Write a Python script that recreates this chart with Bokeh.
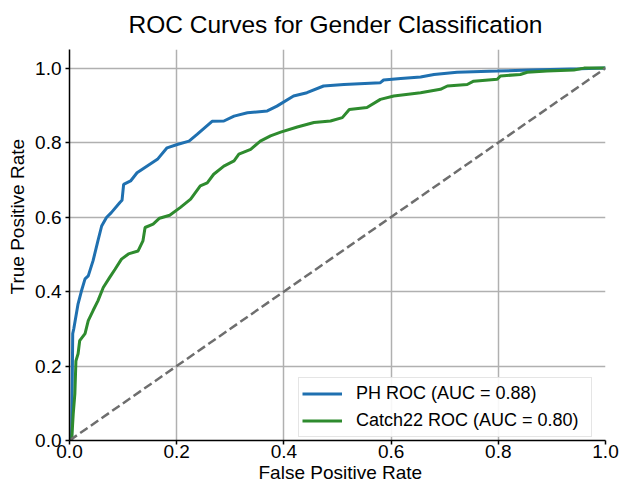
from bokeh.plotting import figure
from bokeh.models import Range1d, FixedTicker, PrintfTickFormatter, Legend, LegendItem, Title
from bokeh.embed import file_html
from bokeh.resources import INLINE

title = "ROC Curves for Gender Classification"
x_label = "False Positive Rate"
y_label = "True Positive Rate"
ticks = [0.0, 0.2, 0.4, 0.6, 0.8, 1.0]

ph_label = "PH ROC (AUC = 0.88)"
ph_fpr = [0.0, 0.004, 0.006, 0.008, 0.016, 0.022, 0.029, 0.035, 0.044, 0.053, 0.060, 0.069,
          0.078, 0.094, 0.098, 0.101, 0.114, 0.126, 0.145, 0.164, 0.182, 0.201, 0.223, 0.238,
          0.266, 0.288, 0.307, 0.332, 0.369, 0.387, 0.418, 0.443, 0.474, 0.512, 0.580, 0.586,
          0.618, 0.655, 0.680, 0.723, 0.798, 0.860, 0.953, 1.0]
ph_tpr = [0.0, 0.0, 0.287, 0.300, 0.367, 0.400, 0.434, 0.442, 0.483, 0.536, 0.576, 0.599,
          0.612, 0.639, 0.645, 0.688, 0.697, 0.719, 0.737, 0.755, 0.786, 0.795, 0.804, 0.822,
          0.857, 0.858, 0.871, 0.880, 0.885, 0.898, 0.925, 0.934, 0.952, 0.956, 0.961, 0.968,
          0.972, 0.976, 0.983, 0.989, 0.992, 0.995, 0.998, 1.0]

c22_label = "Catch22 ROC (AUC = 0.80)"
c22_fpr = [0.0, 0.004, 0.007, 0.010, 0.012, 0.016, 0.019, 0.029, 0.035, 0.044, 0.053, 0.063,
           0.075, 0.085, 0.097, 0.110, 0.128, 0.137, 0.141, 0.156, 0.168, 0.187, 0.207, 0.226,
           0.244, 0.257, 0.269, 0.288, 0.307, 0.316, 0.338, 0.356, 0.375, 0.394, 0.425, 0.456,
           0.487, 0.509, 0.522, 0.555, 0.580, 0.605, 0.655, 0.692, 0.705, 0.742, 0.754, 0.798,
           0.804, 0.841, 0.854, 0.891, 0.941, 0.960, 1.0]
c22_tpr = [0.0, 0.0, 0.072, 0.125, 0.214, 0.233, 0.268, 0.287, 0.322, 0.349, 0.375, 0.411,
           0.438, 0.460, 0.487, 0.501, 0.509, 0.536, 0.572, 0.581, 0.597, 0.605, 0.626, 0.648,
           0.684, 0.692, 0.715, 0.737, 0.751, 0.769, 0.782, 0.804, 0.818, 0.828, 0.842, 0.854,
           0.858, 0.867, 0.889, 0.894, 0.916, 0.925, 0.934, 0.943, 0.952, 0.956, 0.965, 0.970,
           0.979, 0.983, 0.989, 0.992, 0.995, 1.0, 1.0]

diag = [0.0, 1.0]

FONT = "Liberation Sans"

p = figure(width=620, height=485, output_backend="svg", toolbar_location=None,
           x_range=Range1d(0, 1), y_range=Range1d(0, 1.05),
           min_border_left=69, min_border_right=15, min_border_top=48, min_border_bottom=45)
p.outline_line_color = None
p.background_fill_color = "white"
p.border_fill_color = "white"

for ax in (p.xaxis, p.yaxis):
    ax.ticker = FixedTicker(ticks=ticks)
    ax.formatter = PrintfTickFormatter(format="%.1f")
    ax.axis_line_color = "black"
    ax.axis_line_width = 1.5
    ax.major_tick_line_color = "black"
    ax.major_tick_line_width = 1.5
    ax.major_tick_out = 4
    ax.major_tick_in = 0
    ax.minor_tick_line_color = None
    ax.major_label_text_font = FONT
    ax.major_label_text_font_size = "19px"
    ax.major_label_text_color = "black"

p.xaxis.major_label_standoff = 0
p.yaxis.major_label_standoff = 4

for g in (p.xgrid, p.ygrid):
    g.ticker = FixedTicker(ticks=ticks)
    g.grid_line_color = "#b0b0b0"
    g.grid_line_width = 1.5

r_ph = p.line(ph_fpr, ph_tpr, line_color="#1f70b0", line_width=3)
r_c22 = p.line(c22_fpr, c22_tpr, line_color="#2e8b2e", line_width=3)
p.line(diag, diag, line_color="#6e6e6e", line_width=2.5, line_dash="9 4")

# title and axis labels as Title annotations in the side panels
p.add_layout(Title(text=title, align="left", offset=59, standoff=20, vertical_align="top",
                   text_font=FONT, text_font_size="24.5px", text_font_style="normal",
                   text_color="black"), "above")
p.add_layout(Title(text=x_label, align="left", offset=189, standoff=-2,
                   text_font=FONT, text_font_size="19px", text_font_style="normal",
                   text_color="black"), "below")
p.add_layout(Title(text=y_label, align="left", offset=146, standoff=9,
                   text_font=FONT, text_font_size="19px", text_font_style="normal",
                   text_color="black"), "left")

legend = Legend(items=[LegendItem(label=ph_label, renderers=[r_ph]),
                       LegendItem(label=c22_label, renderers=[r_c22])],
                location=(229, 3))
legend.label_text_font = FONT
legend.label_text_font_size = "18px"
legend.label_text_color = "black"
legend.glyph_width = 40
legend.glyph_height = 25
legend.label_height = 25
legend.label_width = 232
legend.label_standoff = 14
legend.padding = 3
legend.spacing = 2
legend.margin = 0
legend.border_line_color = "#cccccc"
legend.border_line_width = 1.2
legend.background_fill_color = "white"
legend.background_fill_alpha = 0.9
p.add_layout(legend, "center")

open("out.html", "w").write(file_html(p, INLINE))
